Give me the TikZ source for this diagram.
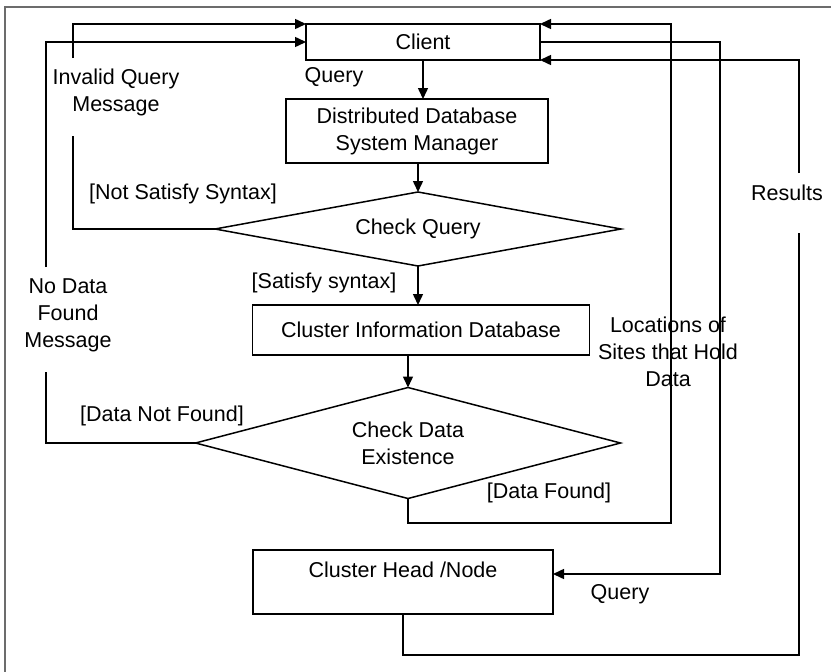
\documentclass[tikz,border=0pt]{standalone}
\usepackage{fontspec}
\setmainfont{Liberation Sans}
\usetikzlibrary{shapes.geometric,arrows.meta}

\begin{document}
\begin{tikzpicture}[x=1pt,y=-1pt,
  every node/.style={font=\fontsize{21.5}{27}\selectfont},
  box/.style={draw,line width=1.5pt,inner sep=0pt,outer sep=0pt},
  decision/.style={draw,diamond,line width=1.5pt,inner sep=0pt,outer sep=0pt},
  flow/.style={line width=1.5pt},
  arr/.style={flow,-{Triangle[length=11pt,width=10pt]}},
  lbl/.style={inner sep=0pt,align=center}]
  \useasboundingbox (0,0) rectangle (831,672);
  \draw[gray!85!black,line width=2.5pt] (5,672) -- (5,7) -- (831,7);
  % blocks
  \node[box,minimum width=234pt,minimum height=36pt] (client) at (423,42) {Client};
  \node[box,minimum width=262pt,minimum height=64pt,align=center] (ddsm) at (417,131) {Distributed Database\\System Manager};
  \node[decision,minimum width=406pt,minimum height=74pt,aspect=5.5] (chkq) at (418,229) {Check Query};
  \node[box,minimum width=337pt,minimum height=50pt] (cidb) at (421,330) {Cluster Information Database};
  \node[decision,minimum width=425pt,minimum height=111pt,aspect=3.8,align=center] (chkd) at (408,443) {Check Data\\Existence};
  \node[box,minimum width=300pt,minimum height=64pt,text height=27pt,text depth=37pt] (head) at (403,582) {Cluster Head /Node};
  % main flow
  \draw[arr] (client.south) -- (client.south |- ddsm.north);
  \draw[arr] (chkq.north |- ddsm.south) -- (chkq.north);
  \draw[arr] (chkq.south) -- (chkq.south |- cidb.north);
  \draw[arr] (chkd.north |- cidb.south) -- (chkd.north);
  \node[lbl] (qtop) at (334,77) {Query};
  \node[lbl] (sat) at (324,283) {[Satisfy syntax]};
  % invalid query
  \coordinate (iqlow) at (73,136);
  \coordinate (iqhigh) at (73,58);
  \draw[flow] (chkq.west) -| (iqlow);
  \draw[arr] (iqhigh) |- (client.north west);
  \node[lbl] (iqmsg) at (116,92) {Invalid Query\\Message};
  \node[lbl] (nsat) at (183,194) {[Not Satisfy Syntax]};
  % no data found
  \coordinate (ndlow) at (46,372);
  \coordinate (ndhigh) at (46,267);
  \draw[flow] (chkd.west) -| (ndlow);
  \draw[arr] (ndhigh) |- (client.west);
  \node[lbl] (ndmsg) at (68,315) {No Data\\Found\\Message};
  \node[lbl] (dnf) at (162,416) {[Data Not Found]};
  % data found
  \coordinate (dfcorner) at (671,523);
  \draw[arr] (chkd.south) |- (dfcorner) |- (client.north east);
  \node[lbl] (dfnd) at (549,493) {[Data Found]};
  \node[lbl] (locs) at (668,352) {Locations of\\Sites that Hold\\Data};
  % query to cluster head
  \coordinate (qcorner) at (720,42);
  \draw[arr] (client.east) -- (qcorner) |- ([yshift=8pt]head.east);
  \node[lbl] (qbot) at (620,594) {Query};
  % results
  \coordinate (rsbot) at (799,655);
  \coordinate (rslow) at (799,233);
  \coordinate (rshigh) at (799,173);
  \draw[flow] (head.south) |- (rsbot) -- (rslow);
  \draw[arr] (rshigh) |- (client.south east);
  \node[lbl] (res) at (787,193) {Results};
\end{tikzpicture}
\end{document}
